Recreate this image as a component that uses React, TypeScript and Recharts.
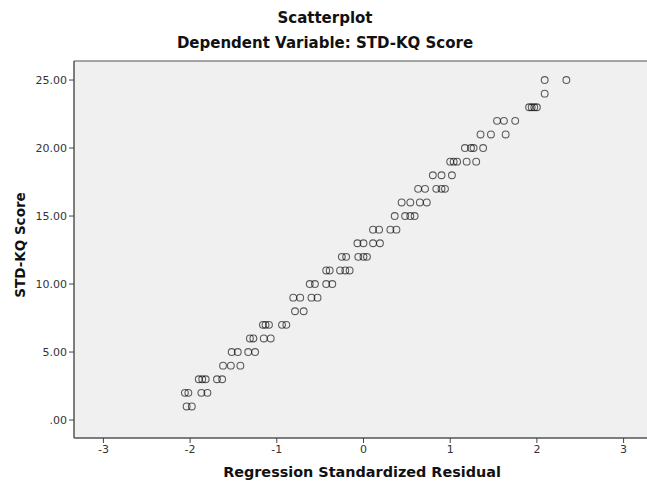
import { ReferenceArea, ReferenceLine, Scatter, ScatterChart, XAxis, YAxis } from "recharts";

// STD-KQ score for each case, paired with the regression standardized residual
const scores = [
  1, 1,
  2, 2, 2, 2,
  3, 3, 3, 3, 3,
  4, 4, 4,
  5, 5, 5, 5,
  6, 6, 6, 6,
  7, 7, 7, 7, 7,
  8, 8,
  9, 9, 9, 9,
  10, 10, 10, 10,
  11, 11, 11, 11, 11,
  12, 12, 12, 12, 12,
  13, 13, 13, 13,
  14, 14, 14, 14,
  15, 15, 15, 15,
  16, 16, 16, 16,
  17, 17, 17, 17, 17,
  18, 18, 18,
  19, 19, 19, 19, 19,
  20, 20, 20, 20,
  21, 21, 21,
  22, 22, 22,
  23, 23, 23, 23,
  24,
  25, 25
];

const residuals = [
  -2.04, -1.98,
  -2.06, -2.02, -1.87, -1.8,
  -1.9, -1.86, -1.82, -1.69, -1.63,
  -1.62, -1.53, -1.42,
  -1.52, -1.45, -1.33, -1.25,
  -1.31, -1.27, -1.15, -1.07,
  -1.16, -1.13, -1.09, -0.94, -0.89,
  -0.79, -0.69,
  -0.81, -0.73, -0.6, -0.53,
  -0.62, -0.56, -0.43, -0.36,
  -0.43, -0.39, -0.27, -0.21, -0.16,
  -0.25, -0.2, -0.06, 0.0, 0.04,
  -0.07, 0.0, 0.11, 0.19,
  0.11, 0.18, 0.31, 0.38,
  0.36, 0.48, 0.54, 0.59,
  0.44, 0.54, 0.65, 0.73,
  0.63, 0.71, 0.84, 0.9, 0.94,
  0.8, 0.9, 1.02,
  1.0, 1.04, 1.08, 1.19, 1.3,
  1.17, 1.24, 1.27, 1.38,
  1.35, 1.47, 1.64,
  1.54, 1.62, 1.75,
  1.91, 1.94, 1.97, 2.0,
  2.09,
  2.09, 2.34
];

const xTicks = [-3, -2, -1, 0, 1, 2, 3];
const yTicks = [0, 5, 10, 15, 20, 25];

const points = scores.map((score, i) => ({ x: residuals[i], y: score }));

// the plot runs past the right edge of the page, so no right border shows
const xDomain = [-3.339, 3.42];
const yDomain = [-1.32, 26.4];

const font = "'DejaVu Sans', sans-serif";

function Ring(props: any) {
  return (
    <circle
      cx={props.cx}
      cy={props.cy}
      r={3.4}
      fill="none"
      stroke="#000"
      strokeOpacity={0.62}
      strokeWidth={1.1}
    />
  );
}

const textStyle = {
  position: "absolute" as const,
  transform: "translate(-50%, -50%)",
  whiteSpace: "nowrap" as const,
  fontFamily: font,
  fontWeight: "bold" as const,
  color: "#111"
};

export default function App() {
  return (
    <div
      style={{
        position: "absolute",
        left: 0,
        top: 0,
        width: 647,
        height: 485,
        overflow: "hidden",
        background: "#fff"
      }}
    >
      <ScatterChart width={660} height={485} margin={{ top: 61, right: 0, bottom: 17, left: 0 }}>
        <ReferenceArea
          x1={xDomain[0]}
          x2={xDomain[1]}
          y1={yDomain[0]}
          y2={yDomain[1]}
          fill="#f0f0f0"
          fillOpacity={1}
          stroke="none"
        />
        <ReferenceLine y={yDomain[1]} stroke="#8a8a8a" strokeWidth={1.5} />
        <XAxis
          type="number"
          dataKey="x"
          domain={xDomain}
          ticks={xTicks}
          allowDataOverflow
          height={30}
          tickSize={5}
          tickMargin={2}
          tick={{ fontSize: 11, fill: "#333", fontFamily: font }}
          tickLine={{ stroke: "#444" }}
          axisLine={{ stroke: "#555", strokeWidth: 1.5 }}
        />
        <YAxis
          type="number"
          dataKey="y"
          domain={yDomain}
          ticks={yTicks}
          allowDataOverflow
          width={74}
          tickSize={5}
          tickMargin={2}
          tickFormatter={(v: number) => (v === 0 ? ".00" : v.toFixed(2))}
          tick={{ fontSize: 11, fill: "#333", fontFamily: font }}
          tickLine={{ stroke: "#444" }}
          axisLine={{ stroke: "#555", strokeWidth: 1.5 }}
        />
        <Scatter data={points} shape={Ring} isAnimationActive={false} />
      </ScatterChart>
      <div style={{ ...textStyle, left: 325, top: 18, fontSize: 15 }}>Scatterplot</div>
      <div style={{ ...textStyle, left: 325, top: 43, fontSize: 15 }}>Dependent Variable: STD-KQ Score</div>
      <div style={{ ...textStyle, left: 362, top: 472, fontSize: 14.4 }}>Regression Standardized Residual</div>
      <div
        style={{
          ...textStyle,
          left: 20,
          top: 245,
          fontSize: 13.5,
          transform: "translate(-50%, -50%) rotate(-90deg)"
        }}
      >
        STD-KQ Score
      </div>
    </div>
  );
}
